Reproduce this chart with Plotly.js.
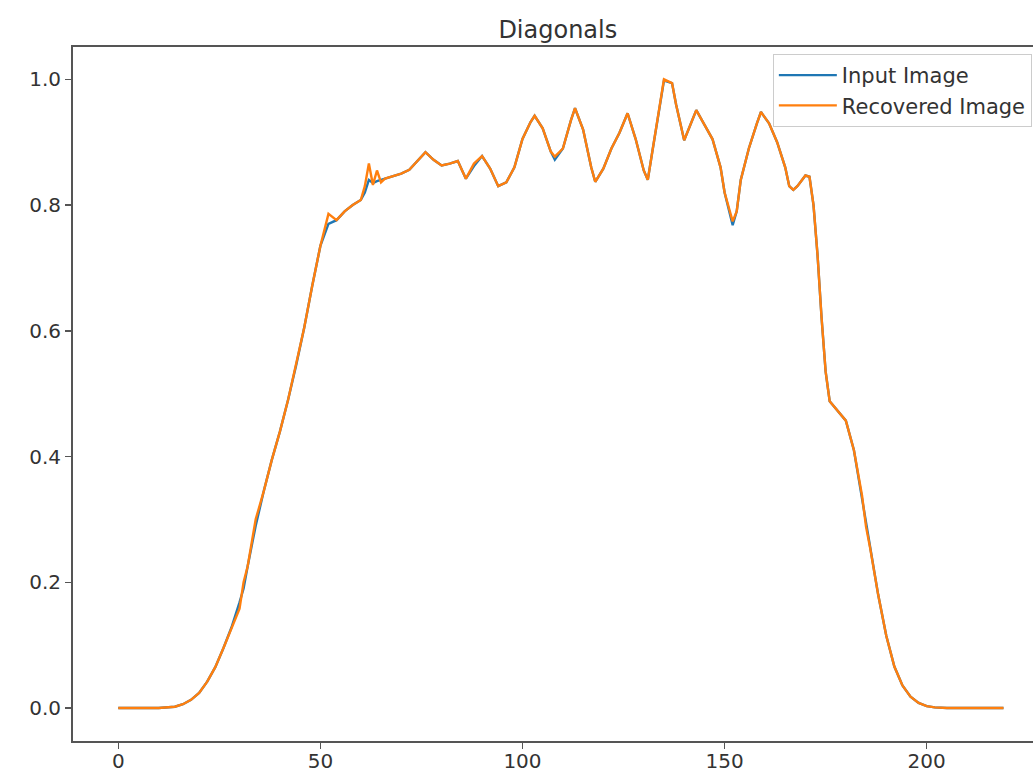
<!DOCTYPE html>
<html>
<head>
<meta charset="utf-8">
<script src="https://cdn.plot.ly/plotly-3.0.1.min.js"></script>
<style>html,body{margin:0;padding:0;background:#fff;}#chart{width:1033px;height:781px;}</style>
</head>
<body>
<div id="chart"></div>
<script>
// Sample positions (pixel index along the diagonal)
var xs = [0,5,10,14,16,18,20,22,24,26,28,30,31,32,34,36,38,40,42,44,46,48,50,52,54,56,58,60,61,62,63,64,65,66,68,70,72,74,76,78,80,82,84,86,88,90,92,94,96,98,100,102,103,105,107,108,110,112,113,115,117,118,120,122,124,126,128,130,131,132,134,135,137,138,140,142,143,145,147,149,150,152,153,154,156,158,159,161,163,165,166,167,168,170,171,172,173,174,175,176,178,180,182,184,185,186,188,190,192,194,196,198,200,202,205,210,215,219];

// Input Image values
var inputImage = [0,0,0,0.002,0.006,0.013,0.024,0.042,0.065,0.095,0.128,0.168,0.19,0.225,0.29,0.345,0.395,0.44,0.49,0.545,0.605,0.672,0.735,0.77,0.776,0.79,0.80,0.808,0.82,0.84,0.835,0.838,0.84,0.842,0.846,0.85,0.856,0.87,0.884,0.872,0.863,0.866,0.87,0.842,0.862,0.878,0.858,0.83,0.836,0.86,0.905,0.932,0.942,0.922,0.885,0.872,0.89,0.935,0.954,0.92,0.86,0.837,0.858,0.89,0.915,0.946,0.905,0.855,0.84,0.88,0.962,0.998,0.994,0.96,0.903,0.935,0.951,0.928,0.905,0.86,0.82,0.768,0.79,0.84,0.89,0.93,0.948,0.93,0.90,0.86,0.83,0.824,0.83,0.847,0.845,0.80,0.72,0.62,0.535,0.488,0.472,0.457,0.41,0.335,0.295,0.255,0.18,0.115,0.066,0.036,0.018,0.008,0.003,0.001,0,0,0,0];

// Recovered Image values
var recoveredImage = [0,0,0,0.002,0.006,0.013,0.024,0.042,0.065,0.095,0.128,0.158,0.20,0.225,0.30,0.345,0.395,0.44,0.49,0.545,0.605,0.672,0.735,0.786,0.776,0.79,0.80,0.808,0.83,0.866,0.832,0.855,0.836,0.842,0.846,0.85,0.856,0.87,0.884,0.872,0.863,0.866,0.87,0.842,0.866,0.878,0.858,0.83,0.836,0.86,0.905,0.932,0.942,0.922,0.885,0.877,0.89,0.935,0.954,0.92,0.86,0.837,0.858,0.89,0.915,0.946,0.905,0.855,0.84,0.88,0.962,1.0,0.994,0.96,0.903,0.935,0.951,0.928,0.905,0.86,0.82,0.774,0.79,0.84,0.89,0.93,0.948,0.93,0.90,0.86,0.83,0.824,0.83,0.847,0.845,0.80,0.72,0.62,0.535,0.488,0.472,0.457,0.41,0.338,0.288,0.255,0.18,0.115,0.066,0.036,0.018,0.008,0.003,0.001,0,0,0,0];

var seriesNames = ["Input Image", "Recovered Image"];
var chartTitle = "Diagonals";

var traces = [
  {x: xs, y: inputImage, type: 'scatter', mode: 'lines', name: seriesNames[0],
   line: {color: '#1f77b4', width: 2.4}},
  {x: xs, y: recoveredImage, type: 'scatter', mode: 'lines', name: seriesNames[1],
   line: {color: '#ff7f0e', width: 2.4}}
];

var font = {family: 'DejaVu Sans, sans-serif', color: '#333', size: 20};

var layout = {
  width: 1033, height: 781,
  margin: {l: 73, r: 0, t: 47, b: 40, pad: 0, autoexpand: false},
  paper_bgcolor: '#fff', plot_bgcolor: '#fff',
  font: font,
  showlegend: true,
  title: {text: chartTitle, font: {family: 'DejaVu Sans, sans-serif', size: 24, color: '#333'},
          x: 0.540, xref: 'container', xanchor: 'center', y: 1 - 30/781, yref: 'container', yanchor: 'middle'},
  xaxis: {range: [-11.2, 226.3], tickmode: 'linear', tick0: 0, dtick: 50,
          showgrid: false, zeroline: false, showline: true, mirror: true,
          linecolor: '#555', linewidth: 2, ticks: 'outside', ticklen: 6, tickwidth: 1.5, tickcolor: '#555',
          ticklabelstandoff: -5, tickfont: font},
  yaxis: {range: [-0.0525, 1.0514], tickmode: 'linear', tick0: 0, dtick: 0.2, tickformat: '.1f',
          showgrid: false, zeroline: false, showline: true, mirror: false,
          linecolor: '#555', linewidth: 2, ticks: 'outside', ticklen: 6, tickwidth: 1.5, tickcolor: '#555',
          tickfont: font},
  legend: {x: 0.729, y: 0.99, xanchor: 'left', yanchor: 'top', itemwidth: 58,
           bgcolor: 'rgba(255,255,255,0.8)', bordercolor: '#cccccc', borderwidth: 1,
           font: {family: 'DejaVu Sans, sans-serif', size: 21, color: '#333'}, tracegroupgap: 0}
};

Plotly.newPlot('chart', traces, layout, {displayModeBar: false, staticPlot: true});
</script>
</body>
</html>
